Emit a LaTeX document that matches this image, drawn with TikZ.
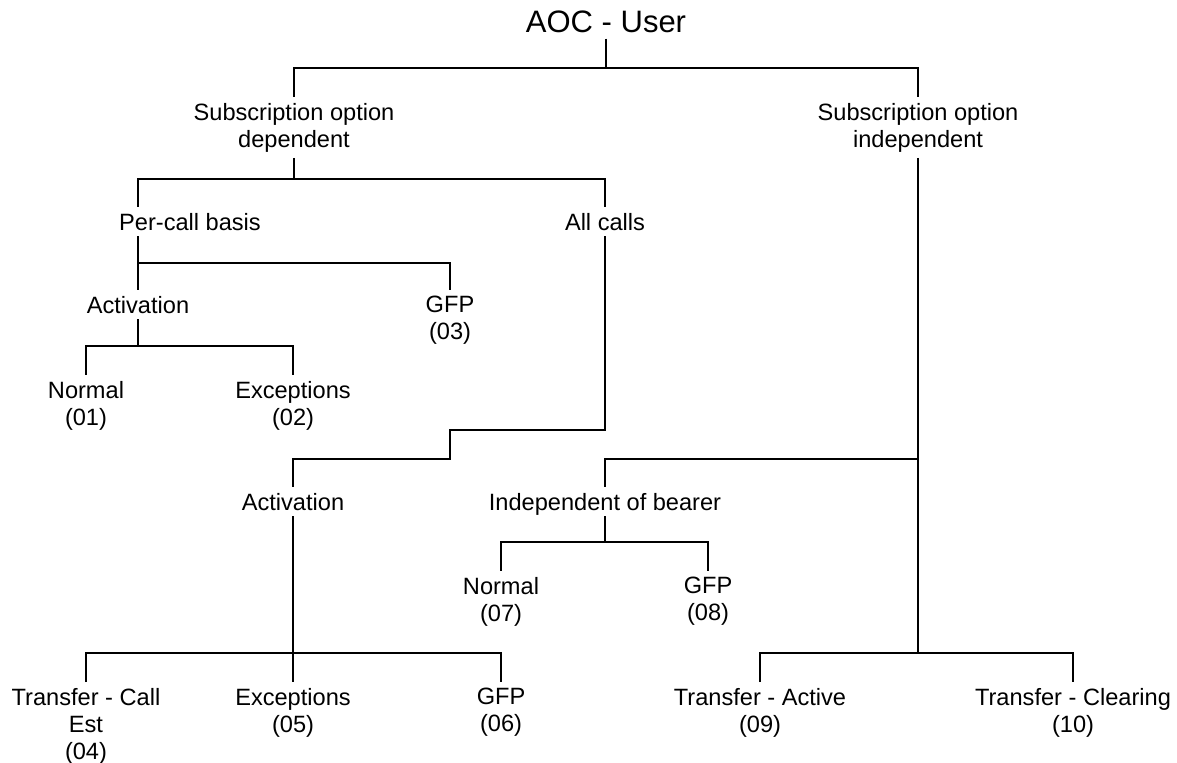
\documentclass[tikz,border=0pt]{standalone}
\usepackage{fontspec}
\setmainfont{Liberation Sans}
\usepackage{tikz}
\tikzset{
  lbl/.style={anchor=north, align=center, inner sep=0pt, outer ysep=3pt,
    font=\fontsize{11.8}{13.5}\selectfont},
  flat/.style={text depth=0pt},
  every path/.style={line width=1.2pt}
}

\begin{document}
\begin{tikzpicture}[x=0.5pt,y=-0.5pt]
        \useasboundingbox (0,0) rectangle (1177,763);
        \node[lbl,flat,font=\fontsize{15.5}{17}\selectfont] (root) at (606,5) {AOC - User};
        \node[lbl]      (dep)  at (294,97)   {Subscription option\\dependent};
        \node[lbl]      (ind)  at (918,97)   {Subscription option\\independent};
        \node[lbl,flat] (pcb)  at (190,207)  {Per-call basis};
        \node[lbl,flat] (all)  at (605,207)  {All calls};
        \node[lbl,flat] (actA) at (138,290)  {Activation};
        \node[lbl]      (gfpC) at (450,290)  {GFP\\(03)};
        \node[lbl]      (norA) at (86,375)   {Normal\\(01)};
        \node[lbl]      (excB) at (293,375)  {Exceptions\\(02)};
        \node[lbl,flat] (actB) at (293,487)  {Activation};
        \node[lbl,flat] (iob)  at (605,487)  {Independent of bearer};
        \node[lbl]      (norG) at (501,571)  {Normal\\(07)};
        \node[lbl]      (gfpH) at (708,571)  {GFP\\(08)};
        \node[lbl]      (tce)  at (86,682)   {Transfer - Call\\Est\\(04)};
        \node[lbl]      (excE) at (293,682)  {Exceptions\\(05)};
        \node[lbl]      (gfpF) at (501,682)  {GFP\\(06)};
        \node[lbl]      (tac)  at (760,682)  {Transfer - Active\\(09)};
        \node[lbl]      (tcl)  at (1073,682) {Transfer - Clearing\\(10)};

        % forks
        \coordinate (k_root) at (606,68);
        \coordinate (k_dep)  at (294,179);
        \coordinate (k_pcb)  at (138,263);
        \coordinate (k_actA) at (138,346);
        \coordinate (k_iob)  at (605,542);
        \coordinate (k_actB) at (293,653);
        \coordinate (k_ind)  at (918,653);

        \draw (root.south) -- (k_root);
        \draw (dep.north) |- (k_root) -| (ind.north);
        \draw (dep.south) -- (k_dep);
        \draw (pcb.north -| actA) |- (k_dep) -| (all.north);
        \draw (pcb.south -| actA) -- (actA.north);
        \draw (k_pcb) -| (gfpC.north);
        \draw (actA.south) -- (k_actA);
        \draw (norA.north) |- (k_actA) -| (excB.north);
        \draw (all.south) |- (450,430) -- (450,459) -| (actB.north);
        \draw (ind.south) -- (k_ind);
        \draw (iob.north) |- (ind.south |- 0,459);
        \draw (iob.south) -- (k_iob);
        \draw (norG.north) |- (k_iob) -| (gfpH.north);
        \draw (actB.south) -- (excE.north);
        \draw (tce.north) |- (k_actB) -| (gfpF.north);
        \draw (tac.north) |- (k_ind) -| (tcl.north);
\end{tikzpicture}
\end{document}
